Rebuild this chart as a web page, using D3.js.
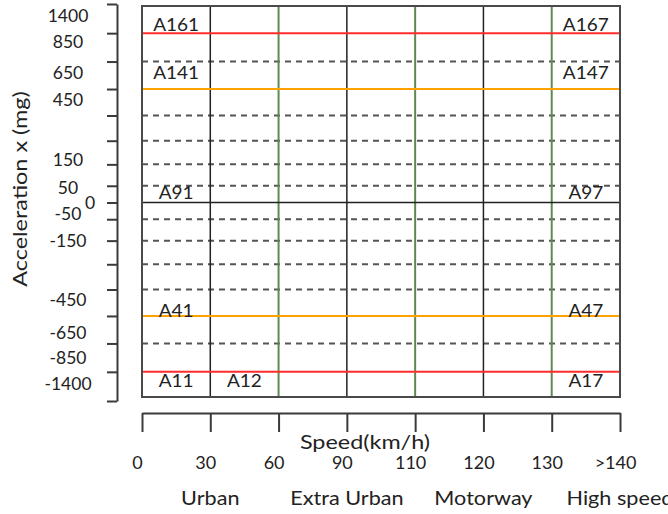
<!DOCTYPE html>
<html>
<head>
<meta charset="utf-8">
<script src="https://cdn.jsdelivr.net/npm/d3@7"></script>
<style>
    body { margin: 0; background: #fff; }
    text { font-family: Lato, "Open Sans", sans-serif; fill: #222; }
</style>
</head>
<body>
<div id="chart"></div>
<script>

// row boundaries of the acceleration grid, counted out from the zero line
const rowEdges = [-8, -7, -6, -5, -4, -3, -2, -1, 0, 1, 2, 3, 4, 5, 6, 7, 8];
// what each boundary stands for
const edgeKinds = ["box", "limit", "grid", "warning", "grid", "grid", "grid", "grid", "zero",
    "grid", "grid", "grid", "grid", "warning", "grid", "limit", "box"];

// acceleration labels (mg) and where they sit on the row axis
const yTickLabels = ["1400", "850", "650", "450", "150", "50", "0", "-50", "-150", "-450", "-650", "-850", "-1400"];
const yTickAt = [7.6, 6.7, 5.6, 4.6, 2.2, 0.9, 0, -0.7, -2, -4.4, -5.6, -6.5, -7.4];

// speed classes (km/h)
const speedTicks = ["0", "30", "60", "90", "110", "120", "130", ">140"];
const speedKinds = ["box", "speed", "zone", "speed", "zone", "speed", "zone", "box"];

const zoneNames = ["Urban", "Extra Urban", "Motorway", "High speed"];
const zoneAt = ["30", "90", "120", ">140"];

// cell names, their speed column and row position
const cellNames = ["A161", "A167", "A141", "A147", "A91", "A97", "A41", "A47", "A11", "A12", "A17"];
const cellCols = [1, 7, 1, 7, 1, 7, 1, 7, 1, 2, 7];
const cellRows = [7.3, 7.3, 5.6, 5.6, 0.65, 0.65, -4.8, -4.8, -7.3, -7.3, -7.3];


const width = 668, height = 514,
    axisX = 117, plotLeft = 142, plotRight = 620,
    plotTop = 4, plotBottom = 401, xAxisY = 413;

const lineColor = {
    grid: "#555",
    limit: "#ff2b2b",
    warning: "#ffa200",
    zero: "#222",
    speed: "#222",
    zone: "#5f8a4f"
};

const svg = d3.select("#chart").append("svg")
    .attr("width", width).attr("height", height);

// scales
const y = d3.scalePow()
    .exponent(1.19)
    .domain([-8, 8])
    .range([plotBottom, plotTop]);

const x = d3.scalePoint()
    .domain(speedTicks)
    .range([plotLeft, plotRight]);

// y axis (ticks only, labels sit between them)
const yAxis = svg.append("g")
    .attr("transform", `translate(${axisX},0)`)
    .call(d3.axisLeft(y).tickValues(rowEdges).tickSize(10).tickSizeOuter(0).tickFormat(""));
yAxis.selectAll("path, line").attr("stroke", "#3a3a3a").attr("stroke-width", 2);

svg.append("g")
    .selectAll("text")
    .data(yTickLabels)
    .enter()
    .append("text")
    .attr("x", (d, i) => yTickAt[i] === 0 ? axisX - 27 : axisX - 49)
    .attr("y", (d, i) => y(yTickAt[i]))
    .attr("dy", "0.36em")
    .attr("text-anchor", "middle")
    .attr("font-size", 17.5)
    .text(d => d);

// x axis
const xAxis = svg.append("g")
    .attr("transform", `translate(0,${xAxisY})`)
    .attr("font-family", null)
    .attr("font-size", 18)
    .attr("color", "#222")
    .call(d3.axisBottom(x).tickSize(19).tickSizeOuter(0).tickPadding(24));
xAxis.attr("font-family", null).attr("font-size", 18);
xAxis.selectAll("path, line").attr("stroke", "#3a3a3a").attr("stroke-width", 2);
xAxis.selectAll("text").attr("dx", -5);

// plot box
const boxTop = y(8) + 2, boxBottom = y(-8) - 4;

const grid = svg.append("g");

const hLines = rowEdges
    .map((e, i) => ({ edge: e, kind: edgeKinds[i] }))
    .filter(d => d.kind !== "box");

grid.selectAll(".dash")
    .data(hLines.filter(d => d.kind === "grid"))
    .enter()
    .append("line")
    .attr("class", "dash")
    .attr("x1", plotLeft).attr("x2", plotRight)
    .attr("y1", d => y(d.edge)).attr("y2", d => y(d.edge))
    .attr("stroke", lineColor.grid)
    .attr("stroke-width", 2)
    .attr("stroke-dasharray", "6,5");

const vLines = speedTicks
    .map((s, i) => ({ speed: s, kind: speedKinds[i] }))
    .filter(d => d.kind !== "box");

grid.selectAll(".vline")
    .data(vLines)
    .enter()
    .append("line")
    .attr("class", "vline")
    .attr("x1", d => x(d.speed)).attr("x2", d => x(d.speed))
    .attr("y1", boxTop).attr("y2", boxBottom)
    .attr("stroke", d => lineColor[d.kind])
    .attr("stroke-width", d => d.kind === "zone" ? 2 : 1.5);

grid.selectAll(".hline")
    .data(hLines.filter(d => d.kind !== "grid"))
    .enter()
    .append("line")
    .attr("class", "hline")
    .attr("x1", plotLeft).attr("x2", plotRight)
    .attr("y1", d => y(d.edge)).attr("y2", d => y(d.edge))
    .attr("stroke", d => lineColor[d.kind])
    .attr("stroke-width", d => d.kind === "zero" ? 1.5 : 2);

svg.append("rect")
    .attr("x", plotLeft).attr("y", boxTop)
    .attr("width", plotRight - plotLeft)
    .attr("height", boxBottom - boxTop)
    .attr("fill", "none")
    .attr("stroke", "#4a4a4a")
    .attr("stroke-width", 2);

// cell names
svg.append("g")
    .selectAll("text")
    .data(cellNames)
    .enter()
    .append("text")
    .attr("transform", (d, i) => {
        const cx = (x(speedTicks[cellCols[i] - 1]) + x(speedTicks[cellCols[i]])) / 2;
        return `translate(${cx},${y(cellRows[i])}) scale(1.12,1)`;
    })
    .attr("dy", "0.36em")
    .attr("text-anchor", "middle")
    .attr("font-size", 17)
    .text(d => d);

// speed zones
svg.append("g")
    .selectAll("text")
    .data(zoneNames)
    .enter()
    .append("text")
    .attr("transform", (d, i) => `translate(${x(zoneAt[i])},505) scale(1.17,1)`)
    .attr("text-anchor", "middle")
    .attr("font-size", 18.5)
    .text(d => d);

// axis titles
svg.append("text")
    .attr("transform", `translate(365,449) scale(1.17,1)`)
    .attr("text-anchor", "middle")
    .attr("font-size", 20)
    .text("Speed(km/h)");

svg.append("text")
    .attr("transform", `translate(27,189) rotate(-90) scale(1.2,1)`)
    .attr("text-anchor", "middle")
    .attr("font-size", 19.5)
    .text("Acceleration x (mg)");

</script>
</body>
</html>
